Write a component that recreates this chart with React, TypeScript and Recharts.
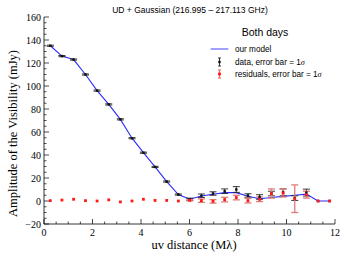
import React from 'react';
import { ComposedChart, Line, Scatter, XAxis, YAxis, ErrorBar } from 'recharts';

const uvDist = [0.26, 0.74, 1.22, 1.71, 2.19, 2.67, 3.15, 3.63, 4.1, 4.58, 5.06, 5.54, 6.01, 6.49, 6.97, 7.45, 7.93, 8.41, 8.89, 9.38, 9.86, 10.34, 10.82, 11.3, 11.78];
const modelAmp = [135, 126, 123, 110, 96, 84, 71, 54.6, 42, 29.6, 16.9, 5.6, 1.5, 4.4, 5.8, 7.3, 7.3, 4.1, 2, 3, 4, 5, 6, 0, 0];
const dataAmp = [135, 126, 123, 110, 96, 84, 71, 54.6, 42, 29.6, 16.9, 5.6, 1.5, 4.6, 6.5, 8.5, 10, 4.8, 3.5, 6.5, 7.5, 2.5, 7.3, 0, 0];
const dataErr = [0.5, 0.5, 0.5, 0.5, 0.5, 0.5, 0.5, 0.5, 0.5, 0.5, 0.5, 0.5, 1, 1.5, 1.5, 2, 2.5, 1.5, 2, 2, 3, 2, 3, 0, 0];
const residAmp = [0.3, 0.8, 1.5, 0.3, 0, 1, -0.8, 0, 1.5, 0.5, 0.5, 0, 0.6, 0.3, -0.3, 1.2, 3, 0.3, 1.5, 6.5, 7, 2, 5.5, 0, 0];
const residErr = [0, 0, 0, 0, 0, 0, 0, 0, 0, 0, 0, 0, 0.5, 1.5, 1.5, 2, 2, 2, 2, 4, 3.5, 12, 3, 0, 0];

const xTicks = Array.from({ length: 25 }, (_, i) => i * 0.5);
const yTicks = Array.from({ length: 37 }, (_, i) => -20 + i * 5);

const modelPts = uvDist.map((x, i) => ({ x, y: modelAmp[i] }));
const dataPts = uvDist.map((x, i) => ({ x, y: dataAmp[i], err: dataErr[i] }));
const residPts = uvDist.map((x, i) => ({ x, y: residAmp[i], err: residErr[i] }));

const serif = '"Liberation Serif", serif';
const sans = '"Liberation Sans", sans-serif';

// ticks point into the plot, like matplotlib
const BottomTick = (p: any) => {
  const v = p.payload.value;
  const major = v % 2 === 0;
  return (
    <g>
      <line x1={p.x} x2={p.x} y1={p.y} y2={p.y - (major ? 5 : 2.5)} stroke="#000" strokeWidth={0.7} />
      {major && (
        <text x={p.x} y={p.y + 12} textAnchor="middle" fontSize={10} fontFamily={serif} fill="#000">{v}</text>
      )}
    </g>
  );
};
const TopTick = (p: any) => {
  const major = p.payload.value % 2 === 0;
  return <line x1={p.x} x2={p.x} y1={p.y} y2={p.y + (major ? 5 : 2.5)} stroke="#000" strokeWidth={0.7} />;
};
const LeftTick = (p: any) => {
  const v = p.payload.value;
  const major = v % 20 === 0;
  return (
    <g>
      <line x1={p.x} x2={p.x + (major ? 5 : 2.5)} y1={p.y} y2={p.y} stroke="#000" strokeWidth={0.7} />
      {major && (
        <text x={p.x - 3} y={p.y + 3.5} textAnchor="end" fontSize={10} fontFamily={serif} fill="#000">
          {v < 0 ? '\u2212' + Math.abs(v) : v}
        </text>
      )}
    </g>
  );
};
const RightTick = (p: any) => {
  const major = p.payload.value % 20 === 0;
  return <line x1={p.x} x2={p.x - (major ? 5 : 2.5)} y1={p.y} y2={p.y} stroke="#000" strokeWidth={0.7} />;
};

const blackDot = (p: any) => <rect x={p.cx - 1.2} y={p.cy - 1.2} width={2.4} height={2.4} fill="#111" />;
const redDot = (p: any) => <rect x={p.cx - 1.4} y={p.cy - 1.4} width={2.8} height={2.8} fill="#ff1a1a" />;

const App: React.FC = () => {
  return (
    <div style={{ position: 'absolute', left: 0, top: 0, width: 349, height: 262, background: '#fff' }}>
      <ComposedChart width={349} height={262} margin={{ top: 17, right: 14, left: 0, bottom: 0 }}>
        <XAxis xAxisId="b" dataKey="x" type="number" domain={[0, 12]} ticks={xTicks} interval={0}
          height={38} tickSize={0} tickMargin={0} tick={BottomTick} axisLine={{ stroke: '#000', strokeWidth: 0.8 }} />
        <XAxis xAxisId="t" orientation="top" dataKey="x" type="number" domain={[0, 12]} ticks={xTicks} interval={0}
          height={0} tickSize={0} tickMargin={0} tick={TopTick} axisLine={{ stroke: '#000', strokeWidth: 0.8 }} />
        <YAxis yAxisId="l" type="number" domain={[-20, 160]} ticks={yTicks} interval={0}
          width={44} tickSize={0} tickMargin={0} tick={LeftTick} axisLine={{ stroke: '#000', strokeWidth: 0.8 }} />
        <YAxis yAxisId="r" orientation="right" type="number" domain={[-20, 160]} ticks={yTicks} interval={0}
          width={0} tickSize={0} tickMargin={0} tick={RightTick} axisLine={{ stroke: '#000', strokeWidth: 0.8 }} />

        <Line xAxisId="b" yAxisId="l" data={modelPts} dataKey="y" stroke="#2b2bff" strokeWidth={1.1}
          dot={false} isAnimationActive={false} />
        <Scatter xAxisId="b" yAxisId="l" data={dataPts} dataKey="y" shape={blackDot} isAnimationActive={false}>
          <ErrorBar dataKey="err" direction="y" width={3.5} stroke="#222" strokeWidth={0.9} />
        </Scatter>
        <Scatter xAxisId="b" yAxisId="l" data={residPts} dataKey="y" shape={redDot} isAnimationActive={false}>
          <ErrorBar dataKey="err" direction="y" width={3.5} stroke="#e07a7a" strokeWidth={1.3} />
        </Scatter>
      </ComposedChart>

      <div style={{ position: 'absolute', left: 0, top: 5, width: 380, textAlign: 'center', fontFamily: sans, fontSize: 8.5 }}>
        UD + Gaussian (216.995 – 217.113 GHz)
      </div>
      <div style={{ position: 'absolute', left: 94, top: 238, width: 200, textAlign: 'center', fontFamily: serif, fontSize: 12.5 }}>
        uv distance (Mλ)
      </div>
      <div style={{ position: 'absolute', left: 13, top: 134, width: 0, height: 0 }}>
        <div style={{ position: 'absolute', left: -120, top: -8, width: 240, textAlign: 'center', transform: 'rotate(-90deg)', fontFamily: serif, fontSize: 12.5, whiteSpace: 'nowrap' }}>
          Amplitude of the Visibility (mJy)
        </div>
      </div>

      {/* legend */}
      <div style={{ position: 'absolute', left: 205, top: 26, width: 120, fontFamily: sans }}>
        <div style={{ textAlign: 'center', fontSize: 10.5, width: 120 }}>Both days</div>
        <svg width={140} height={40} style={{ position: 'absolute', left: 0, top: 16 }}>
          <line x1={5.7} x2={23.3} y1={7} y2={7} stroke="#8a8aff" strokeWidth={1.6} />
          <text x={30} y={10} fontSize={8.2} fontFamily={sans}>our model</text>
          <line x1={14.5} x2={14.5} y1={16} y2={24} stroke="#222" strokeWidth={0.9} />
          <line x1={13} x2={16} y1={16} y2={16} stroke="#222" strokeWidth={0.9} />
          <line x1={13} x2={16} y1={24} y2={24} stroke="#222" strokeWidth={0.9} />
          <rect x={13.3} y={18.8} width={2.4} height={2.4} fill="#111" />
          <text x={30} y={23} fontSize={8.2} fontFamily={sans}>data, error bar = 1<tspan fontStyle="italic" fontFamily={serif}>σ</tspan></text>
          <line x1={14.5} x2={14.5} y1={28} y2={36} stroke="#e07a7a" strokeWidth={1.3} />
          <line x1={13} x2={16} y1={28} y2={28} stroke="#e07a7a" strokeWidth={1.3} />
          <line x1={13} x2={16} y1={36} y2={36} stroke="#e07a7a" strokeWidth={1.3} />
          <rect x={13.1} y={30.6} width={2.8} height={2.8} fill="#ff1a1a" />
          <text x={30} y={35} fontSize={8.2} fontFamily={sans}>residuals, error bar = 1<tspan fontStyle="italic" fontFamily={serif}>σ</tspan></text>
        </svg>
      </div>
    </div>
  );
};

export default App;
